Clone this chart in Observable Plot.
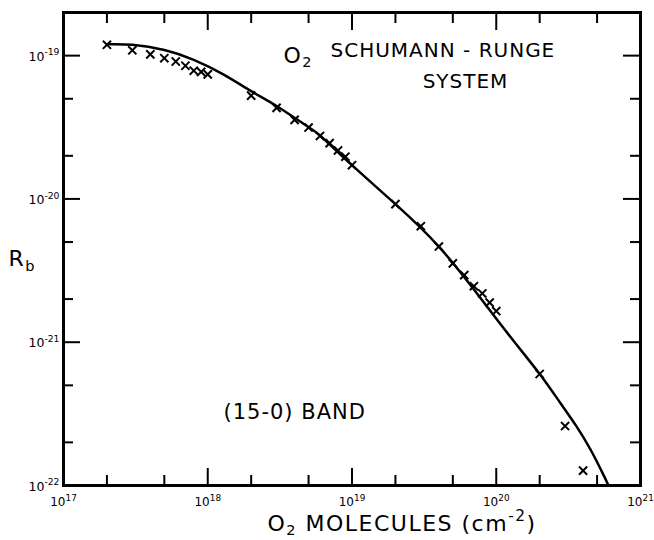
<!DOCTYPE html>
<html>
<head>
<meta charset="utf-8">
<script src="https://cdn.jsdelivr.net/npm/d3@7"></script>
<script src="https://cdn.jsdelivr.net/npm/@observablehq/plot@0.6"></script>
<style>
  html, body { margin: 0; padding: 0; background: #fff; }
  #chart svg { display: block; }
  #chart g[font-size="20"] text, #chart g[font-size="21"] text { letter-spacing: 1px; }
  #chart g[font-size="22"] text { letter-spacing: 1.5px; }
</style>
</head>
<body>
<div id="chart"></div>
<script>
// Measured points (x = O2 column, cm^-2 ; y = Rb)
const pointX = [2e17, 3e17, 4e17, 5e17, 6e17, 7e17, 8e17, 9e17, 1e18,
                2e18, 3e18, 4e18, 5e18, 6e18, 7e18, 8e18, 9e18, 1e19,
                2e19, 3e19, 4e19, 5e19, 6e19, 7e19, 8e19, 9e19, 1e20,
                2e20, 3e20, 4e20];
const pointY = [1.19e-19, 1.09e-19, 1.02e-19, 9.6e-20, 9.1e-20, 8.5e-20, 7.85e-20, 7.7e-20, 7.4e-20,
                5.26e-20, 4.32e-20, 3.56e-20, 3.15e-20, 2.75e-20, 2.45e-20, 2.18e-20, 1.97e-20, 1.72e-20,
                9.2e-21, 6.45e-21, 4.65e-21, 3.55e-21, 2.94e-21, 2.46e-21, 2.19e-21, 1.89e-21, 1.65e-21,
                6.0e-22, 2.6e-22, 1.27e-22];

// Theoretical curve
const curveX = [2e17, 3e17, 5e17, 8e17, 1.3e18, 2e18, 3e18, 4.6e18, 6e18, 1e19,
                2e19, 4e19, 7.7e19, 1.3e20, 2e20, 2.79e20, 3.6e20, 4.5e20, 5.45e20, 6.0e20];
const curveY = [1.2e-19, 1.19e-19, 1.095e-19, 9.35e-20, 7.35e-20, 5.65e-20, 4.45e-20, 3.35e-20, 2.77e-20, 1.72e-20,
                9.2e-21, 4.65e-21, 2.06e-21, 1.04e-21, 6.0e-22, 3.75e-22, 2.585e-22, 1.783e-22, 1.225e-22, 1.0e-22];

// Ticks and tick labels
const xMajor = [1e18, 1e19, 1e20];
const xMinor = [2e17, 5e17, 2e18, 5e18, 2e19, 5e19, 2e20, 5e20];
const yMajor = [1e-21, 1e-20, 1e-19];
const yMinor = [2e-22, 5e-22, 2e-21, 5e-21, 2e-20, 5e-20];
const xLabelPowers = [17, 18, 19, 20, 21];
const yLabelPowers = [-22, -21, -20, -19];

// Texts (^{..} superscript, _{..} subscript)
const xTitle = "O_{2} MOLECULES (cm^{-2})";
const yTitle = "R_{b}";
const noteO2 = "O_{2}";
const noteSystem1 = "SCHUMANN - RUNGE";
const noteSystem2 = "SYSTEM";
const noteBand = "(15-0) BAND";

const points = pointX.map((x, i) => ({x, y: pointY[i]}));
const curve = curveX.map((x, i) => ({x, y: curveY[i]}));

const W = 654, H = 540;
const mL = 63, mR = 14, mT = 12, mB = 55;
const plotH = H - mT - mB;
const plotW = W - mL - mR;
const majLen = 17, minLen = 10;

const chart = Plot.plot({
  width: W,
  height: H,
  marginLeft: mL,
  marginRight: mR,
  marginTop: mT,
  marginBottom: mB,
  x: {type: "log", domain: [1e17, 1e21], axis: null},
  y: {type: "log", domain: [1e-22, 2e-19], axis: null},
  style: {fontFamily: "DejaVu Sans", background: "white", color: "black"},
  marks: [
    // ticks: bottom / top
    Plot.tickX(xMajor, {x: d => d, insetTop: plotH - majLen, stroke: "black", strokeWidth: 2}),
    Plot.tickX(xMajor, {x: d => d, insetBottom: plotH - majLen - 1, stroke: "black", strokeWidth: 2}),
    Plot.tickX(xMinor, {x: d => d, insetTop: plotH - minLen, stroke: "black", strokeWidth: 2}),
    Plot.tickX(xMinor, {x: d => d, insetBottom: plotH - minLen - 1, stroke: "black", strokeWidth: 2}),
    // ticks: left / right
    Plot.tickY(yMajor, {y: d => d, insetRight: plotW - majLen, stroke: "black", strokeWidth: 2}),
    Plot.tickY(yMajor, {y: d => d, insetLeft: plotW - majLen, stroke: "black", strokeWidth: 2}),
    Plot.tickY(yMinor, {y: d => d, insetRight: plotW - minLen, stroke: "black", strokeWidth: 2}),
    Plot.tickY(yMinor, {y: d => d, insetLeft: plotW - minLen, stroke: "black", strokeWidth: 2}),
    Plot.frame({stroke: "black", strokeWidth: 3}),
    // x tick labels
    Plot.text(xLabelPowers, {x: p => Math.pow(10, p), frameAnchor: "bottom", lineAnchor: "middle",
      text: p => "10^{" + p + "}", textAnchor: "middle", dx: 0, dy: 17, fontSize: 12, fill: "black"}),
    // y tick labels
    Plot.text(yLabelPowers, {y: p => Math.pow(10, p), frameAnchor: "left", lineAnchor: "middle",
      text: p => "10^{" + p + "}", textAnchor: "end", dx: -4, dy: 1, fontSize: 12.5, fill: "black"}),
    // curve and points
    Plot.line(curve, {x: "x", y: "y", curve: "natural", stroke: "black", strokeWidth: 2.5, clip: true}),
    Plot.dot(points, {x: "x", y: "y", symbol: "times", r: 3.8, stroke: "black", strokeWidth: 2}),
    // annotations
    Plot.text([noteO2], {frameAnchor: "top-left", lineAnchor: "middle", text: d => d, textAnchor: "start",
      dx: 220, dy: 43, fontSize: 22, fill: "black"}),
    Plot.text([noteSystem1], {frameAnchor: "top-left", lineAnchor: "middle", text: d => d, textAnchor: "start",
      dx: 267, dy: 38, fontSize: 20, fill: "black"}),
    Plot.text([noteSystem2], {frameAnchor: "top-left", lineAnchor: "middle", text: d => d, textAnchor: "middle",
      dx: 402, dy: 69, fontSize: 20, fill: "black"}),
    Plot.text([noteBand], {frameAnchor: "top-left", lineAnchor: "middle", text: d => d, textAnchor: "start",
      dx: 160, dy: 400, fontSize: 21, fill: "black"}),
    // axis titles
    Plot.text([xTitle], {frameAnchor: "bottom", lineAnchor: "middle", text: d => d, textAnchor: "middle",
      dx: 50, dy: 38, fontSize: 22, fill: "black"}),
    Plot.text([yTitle], {frameAnchor: "left", lineAnchor: "middle", text: d => d, textAnchor: "start",
      dx: -55, dy: 10, fontSize: 22, fill: "black"})
  ]
});

// turn ^{..} / _{..} into real superscript / subscript tspans
d3.select(chart).selectAll("text").each(function() {
  const s = this.textContent;
  if (!/[\^_]\{/.test(s)) return;
  const g = this.closest("[font-size]");
  const fs = parseFloat(g ? g.getAttribute("font-size") : 10) || 10;
  const small = fs < 14;
  const parts = s.split(/(\^\{[^}]*\}|_\{[^}]*\})/).filter(p => p.length);
  this.textContent = "";
  let shift = 0, first = true;
  for (const p of parts) {
    let target = 0, size = null, txt = p;
    if (p.startsWith("^{")) { target = -0.42 * fs; size = (small ? 0.74 : 0.7) * fs; txt = p.slice(2, -1); }
    else if (p.startsWith("_{")) { target = 0.22 * fs; size = 0.66 * fs; txt = p.slice(2, -1); }
    const t = d3.select(this).append("tspan").text(txt);
    if (!first || target !== 0) t.attr("dy", target - shift);
    if (size) t.attr("font-size", size);
    shift = target;
    first = false;
  }
});

document.getElementById("chart").appendChild(chart);
</script>
</body>
</html>
